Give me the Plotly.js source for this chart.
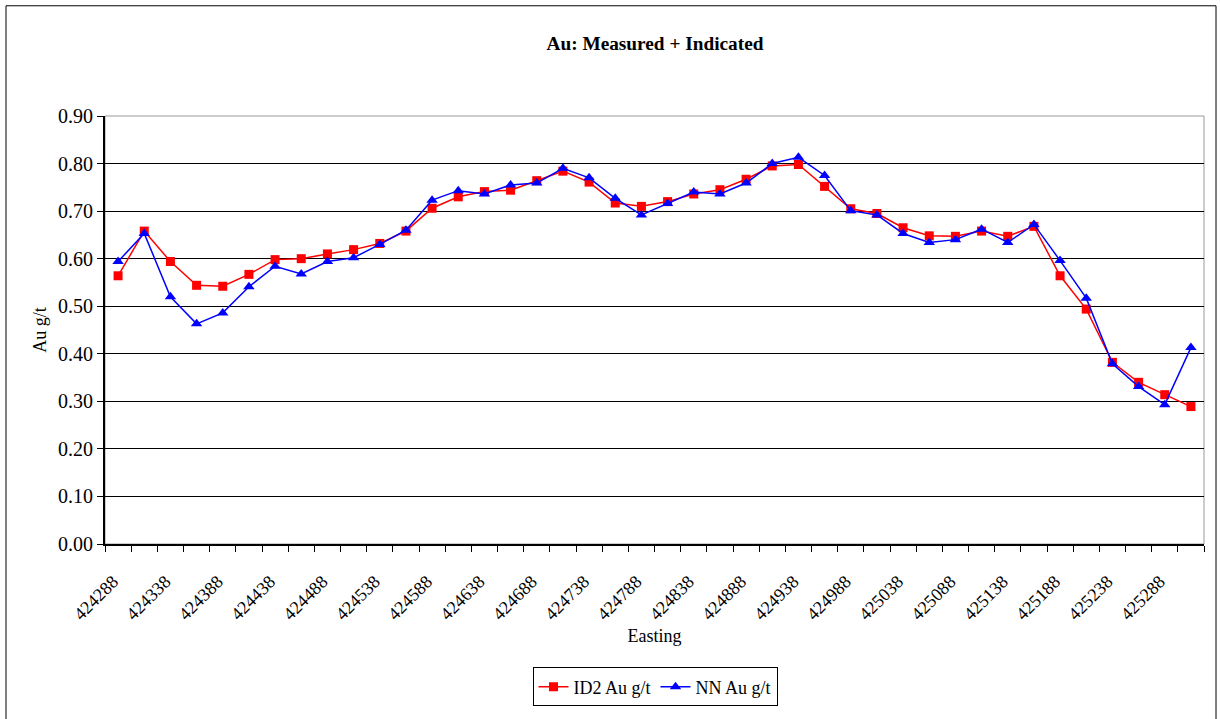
<!DOCTYPE html>
<html>
<head>
<meta charset="utf-8">
<script src="https://cdn.plot.ly/plotly-3.0.1.min.js"></script>
<style>
  html, body { margin: 0; padding: 0; background: #fff; }
  #chart { width: 1220px; height: 719px; }
</style>
</head>
<body>
<div id="chart"></div>
<script>
const eastings = [
  424288, 424313, 424338, 424363, 424388, 424413, 424438, 424463, 424488, 424513,
  424538, 424563, 424588, 424613, 424638, 424663, 424688, 424713, 424738, 424763,
  424788, 424813, 424838, 424863, 424888, 424913, 424938, 424963, 424988, 425013,
  425038, 425063, 425088, 425113, 425138, 425163, 425188, 425213, 425238, 425263,
  425288, 425313
];
const id2Values = [
  0.564, 0.658, 0.594, 0.544, 0.542, 0.567, 0.598, 0.600, 0.610, 0.619,
  0.632, 0.658, 0.706, 0.730, 0.741, 0.744, 0.764, 0.784, 0.761, 0.717,
  0.710, 0.720, 0.736, 0.745, 0.767, 0.795, 0.798, 0.752, 0.705, 0.695,
  0.665, 0.648, 0.647, 0.658, 0.647, 0.668, 0.564, 0.494, 0.382, 0.340,
  0.314, 0.289
];
const nnValues = [
  0.594, 0.653, 0.520, 0.463, 0.486, 0.541, 0.584, 0.568, 0.594, 0.602,
  0.630, 0.660, 0.723, 0.743, 0.736, 0.755, 0.759, 0.790, 0.770, 0.727,
  0.692, 0.716, 0.740, 0.736, 0.759, 0.800, 0.813, 0.775, 0.701, 0.692,
  0.653, 0.634, 0.640, 0.662, 0.634, 0.672, 0.596, 0.517, 0.379, 0.331,
  0.293, 0.413
];
const seriesNames = ['ID2 Au g/t', 'NN Au g/t'];

const FONT = 'Liberation Serif';
const L = 105, R = 16, T = 116, B = 172;
const W = 1220, H = 719;
const pw = W - L - R, ph = H - T - B;
const px = v => (v - L) / pw;
const py = v => (H - B - v) / ph;

const step = eastings[1] - eastings[0];
const xmin = eastings[0] - step / 2;
const xmax = eastings[eastings.length - 1] + step / 2;

const traces = [
  {
    x: eastings, y: id2Values, name: seriesNames[0], type: 'scatter', mode: 'lines+markers',
    line: { color: '#ff0000', width: 1.5 },
    marker: { symbol: 'square', size: 9, color: '#ff0000' }
  },
  {
    x: eastings, y: nnValues, name: seriesNames[1], type: 'scatter', mode: 'lines+markers',
    line: { color: '#0000ff', width: 1.5 },
    marker: { symbol: 'triangle-up', size: 10, color: '#0000ff' }
  }
];

const layout = {
  width: W, height: H,
  margin: { l: L, r: R, t: T, b: B, pad: 0 },
  paper_bgcolor: '#ffffff', plot_bgcolor: '#ffffff',
  font: { family: FONT, size: 18, color: '#000' },
  showlegend: true,
  title: {
    text: '<b>Au: Measured + Indicated</b>',
    font: { family: FONT, size: 19.3, color: '#000' },
    x: px(655), xanchor: 'center', xref: 'paper',
    y: 1 - 43 / H, yanchor: 'middle', yref: 'container'
  },
  xaxis: {
    type: 'linear',
    range: [xmin, xmax],
    tick0: eastings[0], dtick: 2 * step,
    tickformat: 'd',
    tickangle: -45,
    ticks: '', ticklen: 0,
    ticklabelstandoff: 18,
    ticklabelshift: -5,
    showgrid: false, zeroline: false,
    showline: true, linecolor: '#000', linewidth: 2,
    tickfont: { family: FONT, size: 18, color: '#000' },
    minor: { tick0: xmin, dtick: step, ticks: 'outside', ticklen: 6, tickcolor: '#000', tickwidth: 1, showgrid: false },
    title: { text: 'Easting', font: { family: FONT, size: 18, color: '#000' }, standoff: 6 },
    fixedrange: true
  },
  yaxis: {
    range: [0, 0.9], dtick: 0.1, tick0: 0,
    tickformat: '.2f',
    ticks: 'outside', ticklen: 6, tickcolor: '#000', tickwidth: 1,
    showgrid: true, gridcolor: '#000', gridwidth: 1,
    zeroline: false,
    showline: true, linecolor: '#000', linewidth: 2,
    tickfont: { family: FONT, size: 20, color: '#000' },
    title: { text: 'Au g/t', font: { family: FONT, size: 18, color: '#000' }, standoff: 7 },
    fixedrange: true
  },
  legend: {
    orientation: 'h',
    x: px(655), xanchor: 'center',
    y: py(691), yanchor: 'middle',
    bordercolor: '#000', borderwidth: 1, bgcolor: '#fff',
    font: { family: FONT, size: 18, color: '#000' },
    itemwidth: 30, tracegroupgap: 0
  },
  shapes: [
    { type: 'rect', xref: 'paper', yref: 'paper', x0: 0, x1: 1, y0: 0, y1: 1,
      line: { color: '#999', width: 1 }, layer: 'below' },
    { type: 'rect', xref: 'paper', yref: 'paper', x0: px(6), x1: px(1216), y0: py(725), y1: py(5),
      line: { color: '#000', width: 1 }, fillcolor: 'rgba(0,0,0,0)', layer: 'above' }
  ]
};

Plotly.newPlot('chart', traces, layout, { displayModeBar: false, staticPlot: true });
</script>
</body>
</html>
